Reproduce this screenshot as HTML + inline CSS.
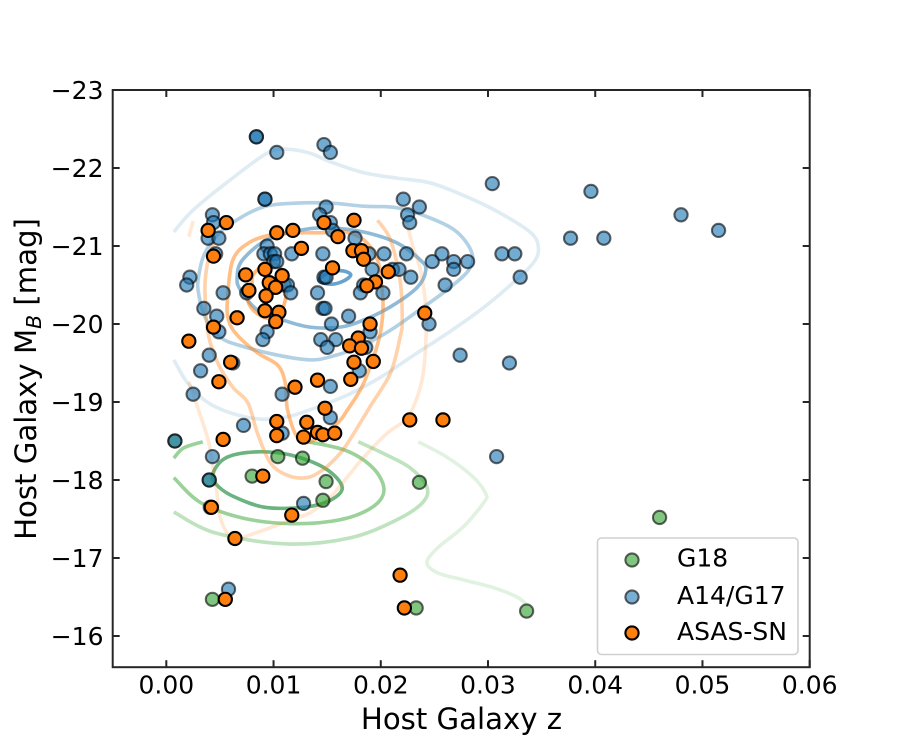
<!DOCTYPE html>
<html>
<head>
<meta charset="utf-8">
<title>Host Galaxy Chart</title>
<style>
html,body{margin:0;padding:0;background:#fff;}
svg{display:block;}
text{font-family:"DejaVu Sans","Liberation Sans",sans-serif;fill:#000;}
</style>
</head>
<body>
<svg id="chart" width="900" height="750" viewBox="0 0 900 750" xmlns="http://www.w3.org/2000/svg">
  <rect x="0" y="0" width="900" height="750" fill="#fff"/>
  <g id="contours" fill="none" stroke-width="3.6" stroke-linecap="butt"></g>
  <g id="points"></g>
  <g id="axes"></g>
  <text x="461.5" y="729" font-size="29.17" text-anchor="middle">Host Galaxy z</text>
  <text transform="translate(36,379) rotate(-90)" font-size="29.17" text-anchor="middle">Host Galaxy M<tspan font-size="20.4" font-style="italic" dy="5">B</tspan><tspan dy="-5"> [mag]</tspan></text>
  <g>
    <rect x="597.5" y="538" width="200.5" height="116.5" rx="4" fill="#fff" fill-opacity="0.8" stroke="#d0d0d0" stroke-width="1.6"/>
    <g>
      <circle cx="632" cy="560" r="6.6" fill="#2ca02c" fill-opacity="0.6" stroke="#000" stroke-opacity="0.6" stroke-width="2.1"/>
      <text x="677" y="566.5" font-size="25">G18</text>
    </g>
    <g>
      <circle cx="632" cy="597" r="6.6" fill="#1f77b4" fill-opacity="0.6" stroke="#000" stroke-opacity="0.6" stroke-width="2.1"/>
      <text x="677" y="604" font-size="25">A14/G17</text>
    </g>
    <g>
      <circle cx="632" cy="633" r="6.6" fill="#ff7f0e" stroke="#000" stroke-width="2.1"/>
      <text x="677" y="640" font-size="25">ASAS-SN</text>
    </g>
  </g>
</svg>
<script>
// ---------- axis limits and ticks ----------
const xLimits = [-0.005, 0.06];
const yLimits = [-23, -15.6];
const xTickValues = [0, 0.01, 0.02, 0.03, 0.04, 0.05, 0.06];
const xTickLabels = ["0.00", "0.01", "0.02", "0.03", "0.04", "0.05", "0.06"];
const yTickValues = [-23, -22, -21, -20, -19, -18, -17, -16];
const yTickLabels = ["\u221223", "\u221222", "\u221221", "\u221220", "\u221219", "\u221218", "\u221217", "\u221216"];

// ---------- scatter data: [host z, M_B] ----------
const g18Points = [
  [0.0008,-18.5],[0.0104,-18.3],[0.0127,-18.28],[0.0080,-18.05],[0.0149,-17.98],[0.0146,-17.74],
  [0.0040,-18.0],[0.0041,-17.65],[0.0236,-17.97],[0.0233,-16.36],[0.0336,-16.32],[0.0043,-16.47],[0.0460,-17.52]
];
const a14g17Points = [
  [0.0084,-22.4],[0.0084,-22.4],[0.0103,-22.2],[0.0147,-22.3],[0.0153,-22.2],[0.0092,-21.6],[0.0092,-21.6],
  [0.0043,-21.4],[0.0044,-21.3],[0.0039,-21.1],[0.0049,-21.1],[0.0046,-20.9],[0.0022,-20.6],[0.0019,-20.5],
  [0.0053,-20.4],[0.0035,-20.2],[0.0047,-20.1],[0.0094,-21.0],[0.0091,-20.9],[0.0097,-20.9],[0.0101,-20.9],
  [0.0100,-20.8],[0.0103,-20.8],[0.0117,-20.9],[0.0110,-20.5],[0.0113,-20.5],[0.0116,-20.4],[0.0075,-20.4],
  [0.0141,-20.4],[0.0149,-21.5],[0.0143,-21.4],[0.0153,-21.3],[0.0155,-21.2],[0.0146,-20.9],[0.0147,-20.6],
  [0.0149,-20.6],[0.0146,-20.2],[0.0148,-20.2],[0.0221,-21.6],[0.0236,-21.5],[0.0225,-21.4],[0.0227,-21.3],
  [0.0176,-21.1],[0.0304,-21.8],[0.0396,-21.7],[0.0480,-21.4],[0.0515,-21.2],[0.0377,-21.1],[0.0408,-21.1],
  [0.0189,-20.9],[0.0203,-20.9],[0.0224,-20.9],[0.0257,-20.9],[0.0248,-20.8],[0.0268,-20.8],[0.0281,-20.8],
  [0.0268,-20.7],[0.0260,-20.5],[0.0228,-20.6],[0.0192,-20.7],[0.0211,-20.7],[0.0217,-20.7],[0.0184,-20.5],
  [0.0181,-20.4],[0.0202,-20.4],[0.0313,-20.9],[0.0325,-20.9],[0.0330,-20.6],[0.0049,-19.9],[0.0094,-19.9],
  [0.0090,-19.8],[0.0154,-20.0],[0.0144,-19.8],[0.0158,-19.8],[0.0150,-19.7],[0.0040,-19.6],[0.0032,-19.4],
  [0.0062,-19.5],[0.0025,-19.1],[0.0108,-19.1],[0.0153,-19.2],[0.0153,-18.8],[0.0072,-18.7],[0.0108,-18.6],
  [0.0008,-18.5],[0.0043,-18.3],[0.0040,-18.0],[0.0128,-17.7],[0.0170,-20.1],[0.0190,-19.9],[0.0186,-19.7],
  [0.0180,-19.4],[0.0245,-20.0],[0.0274,-19.6],[0.0320,-19.5],[0.0308,-18.3],[0.0058,-16.6]
];
const asasSnPoints = [
  [0.0056,-21.3],[0.0039,-21.2],[0.0044,-20.87],[0.0103,-21.17],[0.0118,-21.2],[0.0126,-20.97],[0.0147,-21.3],
  [0.0160,-21.12],[0.0155,-20.72],[0.0092,-20.7],[0.0074,-20.63],[0.0108,-20.62],[0.0096,-20.53],[0.0102,-20.47],
  [0.0077,-20.43],[0.0093,-20.36],[0.0092,-20.17],[0.0105,-20.15],[0.0102,-20.03],[0.0066,-20.08],[0.0044,-19.96],
  [0.0021,-19.78],[0.0060,-19.51],[0.0049,-19.26],[0.0120,-19.19],[0.0141,-19.28],[0.0148,-18.92],[0.0103,-18.75],
  [0.0131,-18.74],[0.0103,-18.57],[0.0128,-18.55],[0.0141,-18.61],[0.0146,-18.58],[0.0157,-18.6],[0.0053,-18.52],
  [0.0090,-18.05],[0.0042,-17.65],[0.0117,-17.55],[0.0064,-17.25],[0.0055,-16.47],[0.0218,-16.78],[0.0222,-16.36],
  [0.0175,-21.33],[0.0174,-20.94],[0.0182,-20.94],[0.0184,-20.83],[0.0207,-20.67],[0.0195,-20.54],[0.0187,-20.49],
  [0.0241,-20.14],[0.0190,-20.0],[0.0179,-19.82],[0.0171,-19.72],[0.0182,-19.69],[0.0175,-19.51],[0.0193,-19.52],
  [0.0172,-19.29],[0.0227,-18.77],[0.0258,-18.77]
];

// ---------- contour lines: [host z, M_B] ----------
const blueContour1 = [[0.0007,-21.18],[0.0025,-21.46],[0.0057,-21.82],[0.0094,-22.19],[0.0113,-22.24],[0.0134,-22.19],[0.0153,-22.08],[0.0184,-21.94],[0.0215,-21.87],[0.0246,-21.81],[0.0277,-21.65],[0.0309,-21.44],[0.0340,-21.17],[0.0347,-20.97],[0.0342,-20.78],[0.0321,-20.5],[0.0293,-20.18],[0.0262,-19.88],[0.0234,-19.63],[0.0200,-19.32],[0.0169,-19.09],[0.0134,-18.9],[0.0113,-18.81],[0.0088,-18.78],[0.0060,-18.86],[0.0038,-19.0],[0.0020,-19.24],[0.0007,-19.54]];
const blueContour2 = [[0.0030,-20.40],[0.0030,-20.60],[0.0036,-20.91],[0.0053,-21.21],[0.0088,-21.49],[0.0122,-21.55],[0.0153,-21.55],[0.0184,-21.51],[0.0215,-21.49],[0.0246,-21.36],[0.0271,-21.18],[0.0285,-20.91],[0.0282,-20.69],[0.0262,-20.44],[0.0237,-20.19],[0.0209,-19.92],[0.0181,-19.71],[0.0153,-19.58],[0.0134,-19.54],[0.0104,-19.60],[0.0072,-19.71],[0.0050,-19.83],[0.0036,-20.09]];
const blueContour3 = [[0.0066,-20.6],[0.0071,-20.82],[0.0094,-21.08],[0.0128,-21.21],[0.0153,-21.23],[0.0184,-21.18],[0.0215,-21.04],[0.0237,-20.82],[0.0242,-20.69],[0.0234,-20.47],[0.0209,-20.22],[0.0184,-20.05],[0.0162,-19.96],[0.0134,-19.96],[0.0109,-20.05],[0.0085,-20.18],[0.0069,-20.44]];
const blueContour4 = [[0.0142,-20.56],[0.0153,-20.67],[0.0165,-20.68],[0.0172,-20.63],[0.0165,-20.55],[0.0153,-20.51]];
const orangeContour1a = [[0.0025,-21.32],[0.0021,-21.12]];
const orangeContour1b = [[0.0224,-21.31],[0.0230,-20.99],[0.0237,-20.69],[0.0242,-20.22],[0.0242,-19.76],[0.0239,-19.32],[0.0232,-18.99],[0.0223,-18.77],[0.0206,-18.60],[0.0184,-18.29],[0.0169,-18.04],[0.0153,-17.78],[0.0134,-17.58],[0.0109,-17.45],[0.0085,-17.33],[0.0064,-17.24],[0.0058,-17.29],[0.0050,-17.53],[0.0047,-17.87],[0.0044,-18.13],[0.0039,-18.51],[0.0030,-18.90],[0.0021,-19.26]];
const orangeContour2 = [[0.0197,-21.33],[0.0209,-21.08],[0.0218,-20.56],[0.0220,-20.05],[0.0218,-19.83],[0.0209,-19.37],[0.0190,-18.94],[0.0169,-18.47],[0.0158,-18.28],[0.0146,-18.13],[0.0131,-18.03],[0.0113,-18.06],[0.0097,-18.22],[0.0085,-18.60],[0.0076,-18.99],[0.0062,-19.19],[0.0048,-19.50],[0.0039,-19.88],[0.0036,-20.47],[0.0039,-20.82],[0.0044,-21.04]];
const orangeContour3 = [[0.0058,-20.05],[0.0057,-20.31],[0.0062,-20.82],[0.0078,-21.05],[0.0100,-21.15],[0.0122,-21.17],[0.0146,-21.17],[0.0167,-21.18],[0.0184,-21.08],[0.0197,-20.82],[0.0201,-20.47],[0.0202,-20.18],[0.0198,-19.79],[0.0184,-19.24],[0.0169,-18.90],[0.0158,-18.71],[0.0134,-18.49],[0.0122,-18.55],[0.0113,-18.90],[0.0111,-19.24],[0.0104,-19.47],[0.0085,-19.63],[0.0066,-19.86]];
const orangeContour4 = [[0.0080,-20.46],[0.0081,-20.63],[0.0094,-20.78],[0.0106,-20.73],[0.0111,-20.53],[0.0111,-20.31],[0.0104,-20.09],[0.0092,-20.08],[0.0081,-20.18],[0.0076,-20.31]];
const greenContour1 = [[0.0235,-18.49],[0.0262,-18.29],[0.0286,-18.04],[0.0298,-17.82],[0.0296,-17.71],[0.0277,-17.40],[0.0253,-17.13],[0.0243,-16.94],[0.0253,-16.81],[0.0277,-16.72],[0.0305,-16.62],[0.0327,-16.50],[0.0336,-16.40]];
const greenContour2 = [[0.0007,-17.59],[0.0046,-17.32],[0.0113,-17.18],[0.0172,-17.26],[0.0215,-17.49],[0.0239,-17.71],[0.0243,-17.91],[0.0228,-18.15],[0.0204,-18.33],[0.0179,-18.49]];
const greenContour3a = [[0.0007,-18.28],[0.0016,-18.41],[0.0034,-18.49]];
const greenContour3b = [[0.0007,-18.03],[0.0032,-17.71],[0.0072,-17.51],[0.0118,-17.44],[0.0162,-17.49],[0.0192,-17.65],[0.0203,-17.87],[0.0193,-18.15],[0.0167,-18.38],[0.0128,-18.50]];
const greenContour4 = [[0.0043,-18.06],[0.0055,-18.28],[0.0083,-18.36],[0.0116,-18.32],[0.0148,-18.15],[0.0164,-17.91],[0.0153,-17.74],[0.0128,-17.65],[0.0092,-17.65],[0.0064,-17.78],[0.0049,-17.91]];

// ---------- axis functions ----------
const plotLeft = 112.7, plotRight = 809.7, plotTop = 90, plotBottom = 667.2;
function xScale(v) { return plotLeft + (v - xLimits[0]) / (xLimits[1] - xLimits[0]) * (plotRight - plotLeft); }
function yScale(v) { return plotTop + (v - yLimits[0]) / (yLimits[1] - yLimits[0]) * (plotBottom - plotTop); }

const NS = "http://www.w3.org/2000/svg";
function make(tag, parent) { const e = document.createElementNS(NS, tag); parent.appendChild(e); return e; }

function smoothPath(data, closed) {
  const p = data.map(d => [xScale(d[0]), yScale(d[1])]);
  const n = p.length;
  const at = i => closed ? p[(i + n) % n] : p[Math.max(0, Math.min(n - 1, i))];
  let s = "M" + p[0][0].toFixed(2) + " " + p[0][1].toFixed(2);
  const segs = closed ? n : n - 1;
  for (let i = 0; i < segs; i++) {
    const a = at(i - 1), b = at(i), c = at(i + 1), d = at(i + 2);
    s += "C" + (b[0] + (c[0] - a[0]) / 6).toFixed(2) + " " + (b[1] + (c[1] - a[1]) / 6).toFixed(2) + " " +
         (c[0] - (d[0] - b[0]) / 6).toFixed(2) + " " + (c[1] - (d[1] - b[1]) / 6).toFixed(2) + " " +
         c[0].toFixed(2) + " " + c[1].toFixed(2);
  }
  return closed ? s + "Z" : s;
}

// ---------- contours ----------
const contourGroup = document.getElementById("contours");
function drawContour(data, closed, color, opacity, name) {
  const path = make("path", contourGroup);
  path.setAttribute("d", smoothPath(data, closed));
  path.setAttribute("stroke", color);
  path.setAttribute("stroke-opacity", opacity);
  
  
}
drawContour(greenContour1, false, "#2ca02c", 0.14, "g18-contour-level-1");
drawContour(greenContour2, false, "#2ca02c", 0.3, "g18-contour-level-2");
drawContour(greenContour3a, false, "#2ca02c", 0.48, "g18-contour-level-3-left");
drawContour(greenContour3b, false, "#2ca02c", 0.48, "g18-contour-level-3");
drawContour(greenContour4, true, "#1b8a3a", 0.65, "g18-contour-level-4");
drawContour(blueContour1, false, "#1f77b4", 0.14, "a14-g17-contour-level-1");
drawContour(blueContour2, true, "#1f77b4", 0.34, "a14-g17-contour-level-2");
drawContour(blueContour3, true, "#1f77b4", 0.5, "a14-g17-contour-level-3");
drawContour(blueContour4, true, "#1f77b4", 0.68, "a14-g17-contour-level-4");
drawContour(orangeContour1a, false, "#ff7f0e", 0.18, "asas-sn-contour-level-1-left");
drawContour(orangeContour1b, false, "#ff7f0e", 0.18, "asas-sn-contour-level-1");
drawContour(orangeContour2, false, "#ff7f0e", 0.35, "asas-sn-contour-level-2");
drawContour(orangeContour3, true, "#ff7f0e", 0.5, "asas-sn-contour-level-3");
drawContour(orangeContour4, true, "#ff7f0e", 0.55, "asas-sn-contour-level-4");

// ---------- scatter points ----------
const pointGroup = document.getElementById("points");
g18Points.forEach(d => {
  const c = make("circle", pointGroup);
  c.setAttribute("cx", xScale(d[0]));
  c.setAttribute("cy", yScale(d[1]));
  c.setAttribute("r", 6.6);
  c.setAttribute("fill", "#2ca02c");
  c.setAttribute("fill-opacity", 0.6);
  c.setAttribute("stroke", "#000");
  c.setAttribute("stroke-opacity", 0.6);
  c.setAttribute("stroke-width", 2.1);
  
  
});
a14g17Points.forEach(d => {
  const c = make("circle", pointGroup);
  c.setAttribute("cx", xScale(d[0]));
  c.setAttribute("cy", yScale(d[1]));
  c.setAttribute("r", 6.6);
  c.setAttribute("fill", "#1f77b4");
  c.setAttribute("fill-opacity", 0.62);
  c.setAttribute("stroke", "#000");
  c.setAttribute("stroke-opacity", 0.6);
  c.setAttribute("stroke-width", 2.1);
  
  
});
asasSnPoints.forEach(d => {
  const c = make("circle", pointGroup);
  c.setAttribute("cx", xScale(d[0]));
  c.setAttribute("cy", yScale(d[1]));
  c.setAttribute("r", 6.6);
  c.setAttribute("fill", "#ff7f0e");
  c.setAttribute("stroke", "#000");
  c.setAttribute("stroke-width", 2.1);
  
  
});

// ---------- axes ----------
const axesGroup = document.getElementById("axes");
const spineColor = "#262626";
const tickLength = 7;
function drawLine(x1, y1, x2, y2) {
  const l = make("line", axesGroup);
  l.setAttribute("x1", x1);
  l.setAttribute("y1", y1);
  l.setAttribute("x2", x2);
  l.setAttribute("y2", y2);
  l.setAttribute("stroke", spineColor);
  l.setAttribute("stroke-width", 2);
  return l;
}
xTickValues.forEach((v, i) => {
  const x = xScale(v);
  const bottomTick = drawLine(x, plotBottom, x, plotBottom - tickLength);
  
  
  const topTick = drawLine(x, plotTop, x, plotTop + tickLength);
  
  
  const t = make("text", axesGroup);
  t.setAttribute("x", x);
  t.setAttribute("y", 693.5);
  t.setAttribute("font-size", 25);
  t.setAttribute("text-anchor", "middle");
  t.textContent = xTickLabels[i];
  
  
});
yTickValues.forEach((v, i) => {
  const y = yScale(v);
  const leftTick = drawLine(plotLeft, y, plotLeft + tickLength, y);
  
  
  const rightTick = drawLine(plotRight, y, plotRight - tickLength, y);
  
  
  const t = make("text", axesGroup);
  t.setAttribute("x", 103.5);
  t.setAttribute("y", y + 9.2);
  t.setAttribute("font-size", 25);
  t.setAttribute("text-anchor", "end");
  t.textContent = yTickLabels[i];
  
  
});
const frame = make("rect", axesGroup);
frame.setAttribute("x", plotLeft);
frame.setAttribute("y", plotTop);
frame.setAttribute("width", plotRight - plotLeft);
frame.setAttribute("height", plotBottom - plotTop);
frame.setAttribute("fill", "none");
frame.setAttribute("stroke", spineColor);
frame.setAttribute("stroke-width", 2);


</script>
</body>
</html>
